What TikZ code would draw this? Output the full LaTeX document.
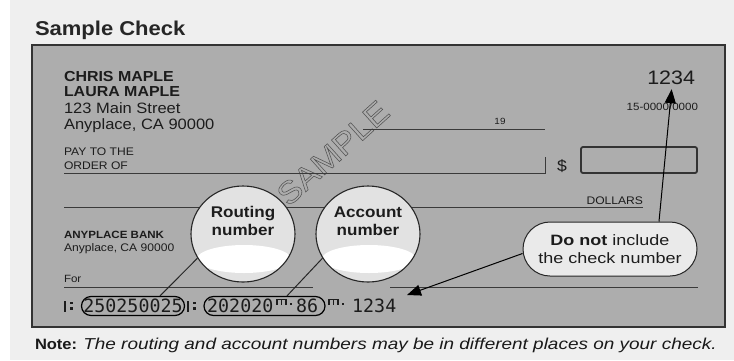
\documentclass[tikz,border=0pt]{standalone}
\usepackage{fontspec}
\setmainfont[FakeStretch=1.1]{Liberation Sans}
\newfontfamily\widefont[FakeStretch=1.2]{Liberation Sans}
\newfontfamily\micr{DejaVu Sans Mono}
\usetikzlibrary{arrows.meta,calc,shapes.geometric}
\definecolor{pagebg}{HTML}{EFEFEF}
\definecolor{checkbg}{HTML}{ADADAD}
\definecolor{ink}{HTML}{1C1C1C}
\definecolor{rulec}{HTML}{3A3A3A}
\definecolor{bubblebg}{HTML}{E2E2E2}
\definecolor{calloutbg}{HTML}{EAEAEA}
\newcommand{\fsz}[1]{\fontsize{#1}{#1}\selectfont}
\begin{document}
\begin{tikzpicture}[x=1pt,y=-1pt,
  txt/.style={inner sep=0pt, outer sep=0pt, text=ink, anchor=base west},
  ruleline/.style={draw=rulec, line width=0.9pt},
  bubble/.style={ellipse, draw=black!85, line width=1.1pt, fill=bubblebg,
    minimum width=104pt, minimum height=96pt, inner sep=0pt},
  bubtxt/.style={inner sep=0pt, anchor=base, text=ink, font=\bfseries\fsz{15.5}},
  ovalbox/.style={rectangle, draw=black, line width=1.2pt, rounded corners=9.5pt,
    minimum height=19pt, inner sep=0pt, text=ink, font=\micr\fsz{18.3}},
  micrtxt/.style={inner sep=0pt, anchor=base west, text=ink, font=\micr\fsz{18.3}},
  callout/.style={rectangle, draw=black!85, line width=1pt, fill=calloutbg,
    rounded corners=27pt, minimum width=174pt, minimum height=54pt, inner sep=0pt,
    align=center, text=ink, font=\widefont\fontsize{15}{18.5}\selectfont},
  pointer/.style={draw=black, line width=1pt, -{Triangle[length=14pt,width=11pt]}},
  leader/.style={draw=black!85, line width=1pt},
  micrsym/.style={fill=ink}]

\useasboundingbox (0,0) rectangle (734,360);
\fill[pagebg] (0,0) rectangle (734,360);
\fill[white] (0,0) rectangle (10,360);

% title
\node[txt, text=black!85, font=\bfseries\fsz{20}] (title) at (35,35) {Sample Check};

% check body
\draw[fill=checkbg, draw=black!80, line width=1.3pt] (32,45) rectangle (725,327);

% watermark
\node[inner sep=0pt, rotate=42, font=\fsz{31}, text=black!55] (wm) at (333,153)
  {\special{pdf:literal direct q 1 Tr 0.55 w 0.32 G}SAMPLE\special{pdf:literal direct Q}};

% owner
\node[txt, font=\bfseries\fsz{14.5}] (name1) at (64,81) {CHRIS MAPLE};
\node[txt, font=\bfseries\fsz{14.5}] (name2) at (64,96.5) {LAURA MAPLE};
\node[txt, font=\fsz{15}] (addr1) at (64,113) {123 Main Street};
\node[txt, font=\fsz{15}] (addr2) at (64,129) {Anyplace, CA 90000};

% number and fraction
\node[txt, anchor=base east, font=\fsz{19.5}] (num) at (695,84) {1234};
\node[txt, anchor=base east, font=\fsz{10.5}] (frac) at (698,110) {15-0000/0000};

% date
\node[txt, anchor=base, font=\fsz{9}] (yr) at (500,124) {19};
\draw[ruleline] (363,129) -- (545,129);

% payee
\node[txt, font=\fsz{11}] (pay1) at (64,155.5) {PAY TO THE};
\node[txt, font=\fsz{11}] (pay2) at (64,169) {ORDER OF};
\draw[ruleline] (64,173) -- (545,173) -- (545,157);
\node[txt, anchor=base, font=\fsz{16}] (dol) at (562,171) {\$};
\draw[draw=black!80, line width=1.8pt, rounded corners=2pt] (581,147) rectangle (697,173);

% dollars line
\node[txt, anchor=base east, font=\fsz{11}] (dollars) at (643,204) {DOLLARS};
\draw[ruleline] (64,207) -- (643,207);

% bank
\node[txt, font=\bfseries\fsz{10.5}] (bank) at (64,238.5) {ANYPLACE BANK};
\node[txt, font=\fsz{11}] (bankaddr) at (64,251) {Anyplace, CA 90000};

% memo and signature
\node[txt, font=\fsz{10.5}] (memo) at (64,282) {For};
\draw[ruleline] (64,287) -- (313,287);
\draw[ruleline] (390,287) -- (698,287);

% MICR line
\fill[micrsym] (63.5,300.5) rectangle (65.8,311.5);
\fill[micrsym] (69.8,301.5) rectangle (72.6,304.3);
\fill[micrsym] (69.8,307) rectangle (72.6,309.8);
\node[ovalbox, minimum width=103pt] (ro) at (133,306) {250250025};
\fill[micrsym] (186.8,300.5) rectangle (189,311.5);
\fill[micrsym] (193,301.5) rectangle (195.8,304.3);
\fill[micrsym] (193,307) rectangle (195.8,309.8);
\node[ovalbox, minimum width=121pt] (ao) at (264.5,306) {};
\node[micrtxt] (acc1) at (207,312.6) {202020};
\draw[draw=ink, line width=1.6pt] (276.8,304.5) -- (276.8,299.5) -- (285.8,299.5) -- (285.8,304.5)
  (281.3,299.5) -- (281.3,304.5);
\fill[micrsym] (289.5,302.5) rectangle (292.3,305.3);
\node[micrtxt] (acc2) at (296,312.6) {86};
\draw[draw=ink, line width=1.6pt] (328.8,304.5) -- (328.8,299.5) -- (337.8,299.5) -- (337.8,304.5)
  (333.3,299.5) -- (333.3,304.5);
\fill[micrsym] (341.5,302.5) rectangle (344.3,305.3);
\node[micrtxt] (tail) at (352,312.6) {1234};

% routing bubble
\node[bubble] (rb) at (243,234) {};
\begin{scope}
  \clip (243,234) ellipse [x radius=51pt, y radius=47pt];
  \fill[white] (244,259) ellipse [x radius=47pt, y radius=14pt];
\end{scope}
\node[bubtxt] (rbl1) at (243,217) {Routing};
\node[bubtxt] (rbl2) at (243,235) {number};

% account bubble
\node[bubble] (ab) at (368,234) {};
\begin{scope}
  \clip (368,234) ellipse [x radius=51pt, y radius=47pt];
  \fill[white] (369,259) ellipse [x radius=47pt, y radius=14pt];
\end{scope}
\node[bubtxt] (abl1) at (368,217) {Account};
\node[bubtxt] (abl2) at (368,235) {number};

% leaders
\draw[leader] (rb.208) -- ($(ro.north)+(27,0)$);
\draw[leader] (ab.208) -- ($(ao.north)+(22.5,0)$);

% callout
\node[callout] (cb) at (610,249) {\textbf{Do not} include\\the check number};
\coordinate (onus) at (407,295);
\draw[pointer] ($(cb.north)+(49,0)$) -- ($(num.south)+(0.5,5)$);
\draw[pointer] ($(cb.west)+(0,4.5)$) -- (onus);

% note
\node[txt, text=black!90] (note) at (35,349)
  {{\bfseries\fsz{15}Note:}\ \ {\widefont\itshape\fsz{15.8}The routing and account numbers may be in different places on your check.}};
\end{tikzpicture}
\end{document}
